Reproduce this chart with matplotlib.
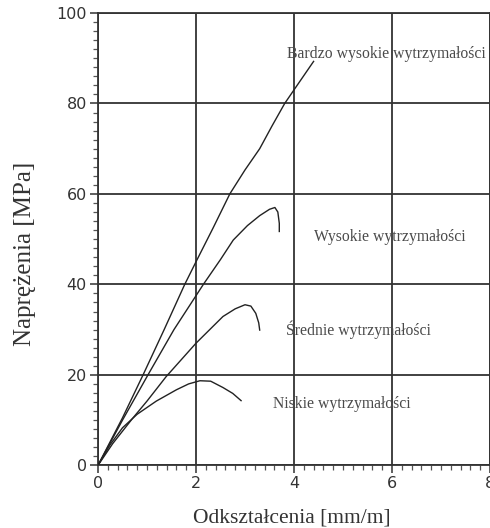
import matplotlib
matplotlib.use("Agg")
import matplotlib.pyplot as plt
from matplotlib.ticker import MultipleLocator

# curves (strain [mm/m], stress [MPa])
bardzo_x = [0, 0.5, 0.92, 1.35, 1.77, 2.0, 2.35, 2.69, 3.0, 3.3, 3.55, 3.81, 4.0, 4.4]
bardzo_y = [0, 10.5, 20, 30, 40, 45, 52.5, 60, 65.3, 70, 75, 80, 83, 89.3]

wysokie_x = [0, 0.5, 1.02, 1.55, 2.15, 2.5, 2.76, 3.05, 3.3, 3.5, 3.61, 3.67, 3.7, 3.7]
wysokie_y = [0, 10, 20, 30, 40, 45.5, 49.8, 53, 55.2, 56.6, 57, 56, 53.5, 51.7]

srednie_x = [0, 0.3, 0.7, 1.0, 1.39, 2.0, 2.55, 2.8, 3.0, 3.12, 3.22, 3.28, 3.3]
srednie_y = [0, 4.8, 10.3, 14.2, 19.6, 27, 32.9, 34.6, 35.5, 35.2, 33.6, 31.5, 29.9]

niskie_x = [0, 0.25, 0.5, 0.8, 1.19, 1.6, 1.85, 2.08, 2.3, 2.55, 2.75, 2.92]
niskie_y = [0, 4.6, 8.3, 11.3, 14.2, 16.7, 18.0, 18.7, 18.6, 17.2, 15.9, 14.3]

labels = ["Bardzo wysokie wytrzymałości", "Wysokie wytrzymałości",
          "Średnie wytrzymałości", "Niskie wytrzymałości"]
label_pos = [(5.88, 91), (5.96, 50.5), (5.31, 30), (4.97, 13.5)]

fig = plt.figure(figsize=(4.9, 5.28), dpi=100)
ax = fig.add_axes([0.2, 0.1187, 0.8, 0.8567])

ink = "#222222"
for xs, ys in [(bardzo_x, bardzo_y), (wysokie_x, wysokie_y),
               (srednie_x, srednie_y), (niskie_x, niskie_y)]:
    ax.plot(xs, ys, color=ink, lw=1.0, zorder=3)

for txt, (tx, ty) in zip(labels, label_pos):
    ax.text(tx, ty, txt, family="Liberation Serif", fontsize=11.3,
            color="#4a4a4a", ha="center", va="center", zorder=4)

ax.set_xlim(0, 8)
ax.set_ylim(0, 100)
ax.xaxis.set_major_locator(MultipleLocator(2))
ax.xaxis.set_minor_locator(MultipleLocator(0.2))
ax.yaxis.set_major_locator(MultipleLocator(20))
ax.yaxis.set_minor_locator(MultipleLocator(2))
ax.grid(True, which="major", color="#333333", lw=1.3)
ax.set_axisbelow(True)
for sp in ax.spines.values():
    sp.set_color("#333333")
    sp.set_linewidth(1.3)

ax.tick_params(which="major", length=6, width=1.1, color="#333333",
               labelsize=11.5, pad=2, labelcolor="#333333")
ax.tick_params(which="minor", length=3.5, width=0.9, color="#555555")
for lab in ax.get_xticklabels() + ax.get_yticklabels():
    lab.set_family("DejaVu Sans")

ax.set_xlabel("Odkształcenia [mm/m]", family="Liberation Serif",
              fontsize=15.5, color="#333333", va="center", ha="center")
ax.set_ylabel("Naprężenia [MPa]", family="Liberation Serif",
              fontsize=18, color="#333333", va="center", ha="center")
ax.xaxis.set_label_coords(0.494, -0.117)
ax.yaxis.set_label_coords(-0.186, 0.467)

fig.savefig("out.png", dpi=100)
